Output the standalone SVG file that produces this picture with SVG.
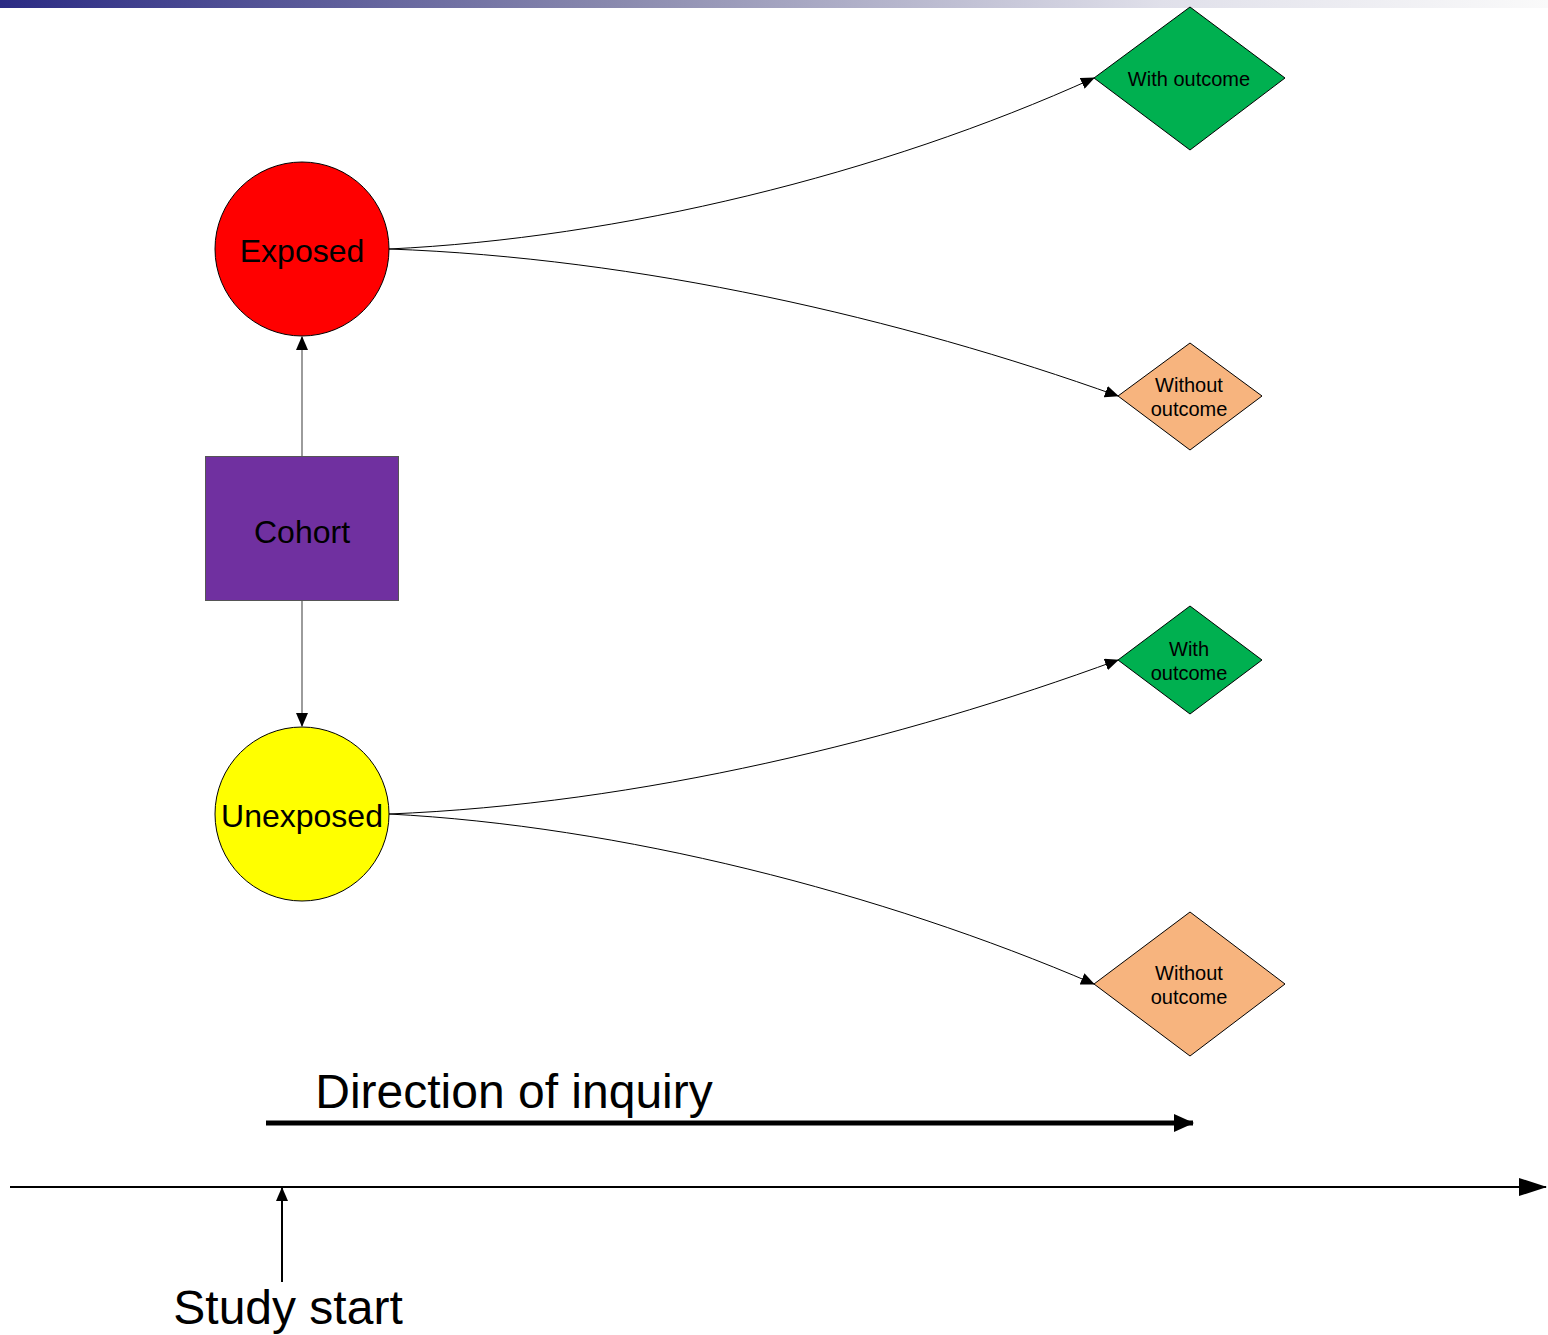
<svg xmlns="http://www.w3.org/2000/svg" width="1548" height="1335" viewBox="0 0 1548 1335">
<style>
text{font-family:"Liberation Sans",Arial,sans-serif;fill:#000;text-anchor:middle}
.n{stroke:#000;stroke-width:1}
.c{fill:none;stroke:#000;stroke-width:1}
.v{fill:none;stroke:#666;stroke-width:1.3}
</style>
<defs>
<linearGradient id="bar" x1="0" x2="1" y1="0" y2="0">
<stop offset="0" stop-color="#2B2B84"/>
<stop offset="0.4" stop-color="#8A8AAE"/>
<stop offset="0.75" stop-color="#E0E0EA"/>
<stop offset="1" stop-color="#FAFAFA"/>
</linearGradient>
<marker id="a" markerUnits="userSpaceOnUse" markerWidth="14" markerHeight="12" refX="13" refY="6" orient="auto">
<path d="M0,0 L14,6 L0,12 Z" fill="#000"/>
</marker>
<marker id="big" markerUnits="userSpaceOnUse" markerWidth="28" markerHeight="18" refX="27" refY="9" orient="auto">
<path d="M0,0 L28,9 L0,18 Z" fill="#000"/>
</marker>
<marker id="thick" markerUnits="userSpaceOnUse" markerWidth="20" markerHeight="18" refX="19" refY="9" orient="auto">
<path d="M0,0 L20,9 L0,18 Z" fill="#000"/>
</marker>
</defs>
<rect x="0" y="0" width="1548" height="8" fill="url(#bar)"/>

<g id="connectors">
<line class="v" x1="302" y1="456" x2="302" y2="337" marker-end="url(#a)"/>
<line class="v" x1="302" y1="600" x2="302" y2="726" marker-end="url(#a)"/>
<path class="c" d="M389,249 C620,238 880,175 1094,78" marker-end="url(#a)"/>
<path class="c" d="M389,249 C640,258 900,318 1118,396" marker-end="url(#a)"/>
<path class="c" d="M389,814 C640,804 900,740 1118,660" marker-end="url(#a)"/>
<path class="c" d="M389,814 C620,826 880,892 1094,984" marker-end="url(#a)"/>
</g>

<g id="exposed">
<circle class="n" cx="302" cy="249" r="87" fill="#FF0000"/>
<text x="302" y="262" font-size="32">Exposed</text>
</g>
<g id="cohort">
<rect x="205.5" y="456.5" width="193" height="144" fill="#7030A0" stroke="#555" stroke-width="1"/>
<text x="302" y="543" font-size="32">Cohort</text>
</g>
<g id="unexposed">
<circle class="n" cx="302" cy="814" r="87" fill="#FFFF00"/>
<text x="302" y="827" font-size="32">Unexposed</text>
</g>
<g id="with1">
<polygon class="n" points="1190,7 1285,78 1190,150 1094,78" fill="#00B050"/>
<text x="1189" y="86" font-size="20">With outcome</text>
</g>
<g id="without1">
<polygon class="n" points="1190,343 1262,396 1190,450 1118,396" fill="#F7B47E"/>
<text x="1189" y="392" font-size="20">Without</text>
<text x="1189" y="416" font-size="20">outcome</text>
</g>
<g id="with2">
<polygon class="n" points="1190,606 1262,660 1190,714 1118,660" fill="#00B050"/>
<text x="1189" y="656" font-size="20">With</text>
<text x="1189" y="680" font-size="20">outcome</text>
</g>
<g id="without2">
<polygon class="n" points="1190,912 1285,984 1190,1056 1094,984" fill="#F7B47E"/>
<text x="1189" y="980" font-size="20">Without</text>
<text x="1189" y="1004" font-size="20">outcome</text>
</g>

<g id="inquiry">
<text x="514" y="1108" font-size="48">Direction of inquiry</text>
<line x1="266" y1="1123" x2="1193" y2="1123" stroke="#000" stroke-width="5" marker-end="url(#thick)"/>
</g>
<g id="timeline">
<line x1="10" y1="1187" x2="1546" y2="1187" stroke="#000" stroke-width="2" marker-end="url(#big)"/>
</g>
<g id="studystart">
<line x1="282" y1="1282" x2="282" y2="1188" stroke="#000" stroke-width="2" marker-end="url(#a)"/>
<text x="288" y="1324" font-size="48">Study start</text>
</g>
</svg>
